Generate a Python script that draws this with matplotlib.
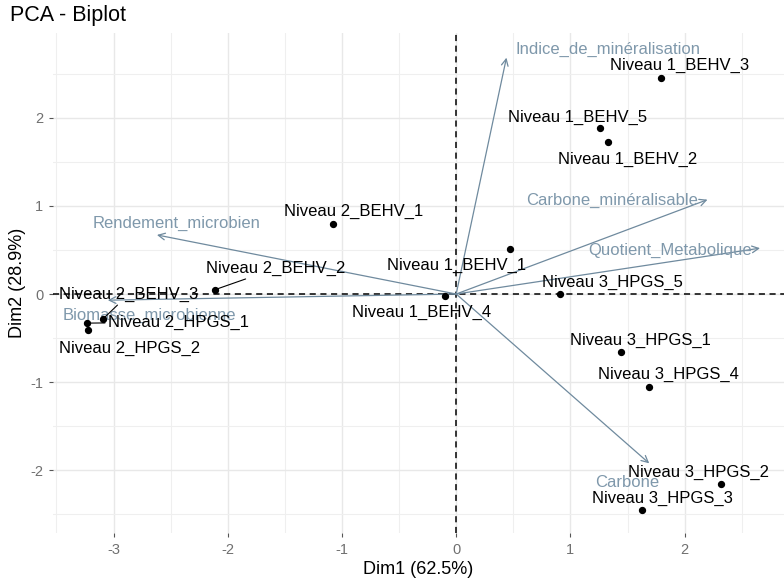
import numpy as np
import matplotlib.pyplot as plt

plt.rcParams['font.family'] = ['Liberation Sans', 'DejaVu Sans']
plt.rcParams['axes.unicode_minus'] = False

# Individuals (coordinates on Dim1 / Dim2)
ind_names = ['Niveau 1_BEHV_3', 'Niveau 1_BEHV_5', 'Niveau 1_BEHV_2', 'Niveau 1_BEHV_1',
             'Niveau 2_BEHV_1', 'Niveau 2_BEHV_2', 'Niveau 2_BEHV_3', 'Niveau 2_HPGS_1',
             'Niveau 2_HPGS_2', 'Niveau 1_BEHV_4', 'Niveau 3_HPGS_5', 'Niveau 3_HPGS_1',
             'Niveau 3_HPGS_4', 'Niveau 3_HPGS_2', 'Niveau 3_HPGS_3']
ind_dim1 = [1.79, 1.26, 1.33, 0.47, -1.08, -2.11, -3.09, -3.23, -3.22, -0.10, 0.91, 1.44, 1.69, 2.32, 1.63]
ind_dim2 = [2.45, 1.88, 1.72, 0.51, 0.79, 0.05, -0.28, -0.33, -0.41, -0.02, 0.00, -0.66, -1.05, -2.16, -2.45]

# Variables (arrow tips)
var_names = ['Indice_de_minéralisation', 'Carbone_minéralisable', 'Quotient_Metabolique',
             'Rendement_microbien', 'Biomasse_microbienne', 'Carbone']
var_dim1 = [0.44, 2.20, 2.66, -2.62, -3.05, 1.69]
var_dim2 = [2.68, 1.07, 0.52, 0.67, -0.07, -1.92]

# label offsets in pixels (dx right, dy down) - repelled labels
ind_off = [(19, -13), (-23, -11), (20, 17), (-53, 16), (21, -13), (60, -21), (25, -24),
           (91, -1), (41, 18), (-23, 17), (52, -12), (20, -12), (19, -12), (-23, -12), (20, -12)]
ind_seg = [False, False, False, False, False, True, True, True, False, False, False, False, False, False, False]
var_off = [(102, -8), (-95, 1), (-90, 2), (20, -12), (42, 15), (-22, 19)]

var_col = '#7f98ab'
arrow_col = '#6f8a9e'

fig = plt.figure(figsize=(7.84, 5.81), dpi=100)
ax = fig.add_axes([53 / 784, 1 - 533 / 581, 1 - 53 / 784, (533 - 33) / 581])

ax.set_xlim(-3.53, 2.87)
ax.set_ylim(-2.71, 2.96)

ax.set_xticks([-3, -2, -1, 0, 1, 2])
ax.set_yticks([-2, -1, 0, 1, 2])
ax.set_xticks(np.arange(-3.5, 3.0, 0.5), minor=True)
ax.set_yticks(np.arange(-2.5, 3.0, 0.5), minor=True)
ax.grid(which='major', color='#e8e8e8', linewidth=1.0)
ax.grid(which='minor', color='#efefef', linewidth=0.8)
ax.set_axisbelow(True)
for s in ax.spines.values():
    s.set_visible(False)
ax.tick_params(which='major', length=3, color='#555555', labelcolor='#707070', labelsize=10.5, pad=4)
ax.tick_params(which='minor', length=0)

ax.axhline(0, color='black', linestyle=(0, (4, 3)), linewidth=1.1, zorder=2)
ax.axvline(0, color='black', linestyle=(0, (4, 3)), linewidth=1.1, zorder=2)

# variable arrows
for name, x, y, (dx, dy) in zip(var_names, var_dim1, var_dim2, var_off):
    ax.annotate('', xy=(x, y), xytext=(0, 0),
                arrowprops=dict(arrowstyle='->', color=arrow_col, lw=0.9,
                                shrinkA=0, shrinkB=0, mutation_scale=12), zorder=3)
    ax.annotate(name, xy=(x, y), xytext=(dx * 0.72, -dy * 0.72), textcoords='offset points',
                ha='center', va='center', color=var_col, fontsize=12, zorder=4)

# individuals
ax.scatter(ind_dim1, ind_dim2, s=18, color='black', zorder=5)
for name, x, y, (dx, dy), seg in zip(ind_names, ind_dim1, ind_dim2, ind_off, ind_seg):
    props = dict(arrowstyle='-', color='black', lw=0.8, shrinkA=0, shrinkB=2) if seg else None
    ax.annotate(name, xy=(x, y), xytext=(dx * 0.72, -dy * 0.72), textcoords='offset points',
                ha='center', va='center', color='black', fontsize=12, arrowprops=props, zorder=6)

ax.set_xlabel('Dim1 (62.5%)', fontsize=13, labelpad=3)
ax.set_ylabel('Dim2 (28.9%)', fontsize=13, labelpad=3)
fig.text(10 / 784, 1 - 16 / 581, 'PCA - Biplot', fontsize=15.5, ha='left', va='center')

fig.savefig('out.png', dpi=100)
